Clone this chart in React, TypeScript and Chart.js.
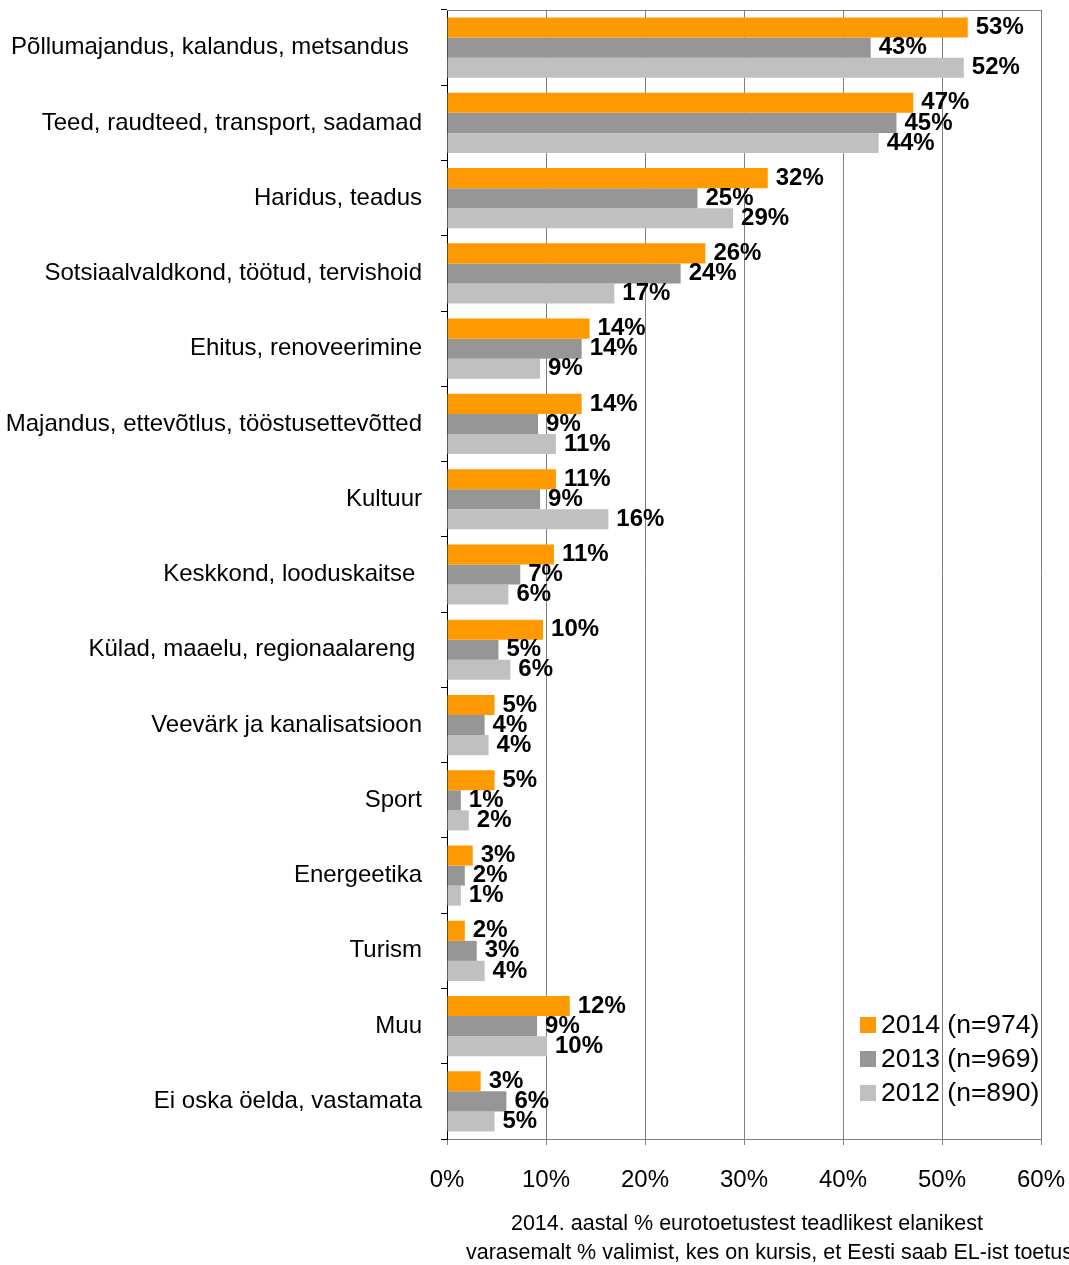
import React, { useEffect, useRef } from "react";
import { Chart, registerables } from "chart.js";

Chart.register(...registerables);

const categories = [
  "Põllumajandus, kalandus, metsandus  ",
  "Teed, raudteed, transport, sadamad",
  "Haridus, teadus",
  "Sotsiaalvaldkond, töötud, tervishoid",
  "Ehitus, renoveerimine",
  "Majandus, ettevõtlus, tööstusettevõtted",
  "Kultuur",
  "Keskkond, looduskaitse ",
  "Külad, maaelu, regionaalareng ",
  "Veevärk ja kanalisatsioon",
  "Sport",
  "Energeetika",
  "Turism",
  "Muu",
  "Ei oska öelda, vastamata",
];

const values2014 = [52.6, 47.1, 32.4, 26.1, 14.4, 13.6, 11.0, 10.8, 9.7, 4.8, 4.8, 2.6, 1.8, 12.4, 3.4];
const values2013 = [42.8, 45.4, 25.3, 23.6, 13.6, 9.2, 9.4, 7.4, 5.2, 3.8, 1.4, 1.8, 3.0, 9.1, 6.0];
const values2012 = [52.2, 43.6, 28.9, 16.9, 9.4, 11.0, 16.3, 6.2, 6.4, 4.2, 2.2, 1.4, 3.8, 10.1, 4.8];

const seriesLabels = ["2014 (n=974)", "2013 (n=969)", "2012 (n=890)"];
const xTicks = [0, 10, 20, 30, 40, 50, 60];
const titleLines = [
  "2014. aastal % eurotoetustest teadlikest elanikest",
  "varasemalt % valimist, kes on kursis, et Eesti saab EL-ist toetust",
];

const FONT = "'Liberation Sans', Arial, sans-serif";

const framePlugin = {
  id: "frame",
  beforeDatasetsDraw(chart: any) {
    const { ctx, chartArea } = chart;
    ctx.save();
    ctx.strokeStyle = "#808080";
    ctx.lineWidth = 1;
    ctx.beginPath();
    ctx.moveTo(chartArea.left, chartArea.top + 0.5);
    ctx.lineTo(chartArea.right, chartArea.top + 0.5);
    ctx.stroke();
    ctx.restore();
  },
};

const labelPlugin = {
  id: "valueLabels",
  afterDatasetsDraw(chart: any) {
    const { ctx } = chart;
    ctx.save();
    ctx.font = `bold 24px ${FONT}`;
    ctx.fillStyle = "#000";
    ctx.textAlign = "left";
    ctx.textBaseline = "middle";
    chart.data.datasets.forEach((ds: any, di: number) => {
      const meta = chart.getDatasetMeta(di);
      meta.data.forEach((el: any, i: number) => {
        const v = ds.data[i];
        ctx.fillText(Math.round(v) + "%", el.x + 8, el.y);
      });
    });
    ctx.restore();
  },
};

const legendPlugin = {
  id: "innerLegend",
  afterDraw(chart: any) {
    const { ctx, chartArea } = chart;
    ctx.save();
    ctx.font = `26.5px ${FONT}`;
    ctx.textBaseline = "middle";
    ctx.textAlign = "left";
    chart.data.datasets.forEach((ds: any, i: number) => {
      const y = chartArea.bottom - 114 + i * 34;
      const x = chartArea.right - 181;
      ctx.fillStyle = ds.backgroundColor;
      ctx.fillRect(x, y - 8, 16, 16);
      ctx.fillStyle = "#000";
      ctx.fillText(ds.label, x + 21, y + 1);
    });
    ctx.restore();
  },
};

const titlePlugin = {
  id: "bottomTitle",
  afterDraw(chart: any) {
    const { ctx, chartArea } = chart;
    ctx.save();
    ctx.font = `21.5px ${FONT}`;
    ctx.fillStyle = "#000";
    ctx.textBaseline = "middle";
    ctx.textAlign = "center";
    ctx.fillText(titleLines[0], (chartArea.left + chartArea.right) / 2 + 3, chartArea.bottom + 85);
    ctx.textAlign = "left";
    ctx.fillText(titleLines[1], chartArea.left + 19, chartArea.bottom + 114);
    ctx.restore();
  },
};

export default function App() {
  const ref = useRef<HTMLCanvasElement | null>(null);

  useEffect(() => {
    if (!ref.current) return;
    const chart = new Chart(ref.current, {
      type: "bar",
      data: {
        labels: categories,
        datasets: [
          { label: seriesLabels[0], data: values2014, backgroundColor: "#FF9900" },
          { label: seriesLabels[1], data: values2013, backgroundColor: "#969696" },
          { label: seriesLabels[2], data: values2012, backgroundColor: "#C0C0C0" },
        ],
      },
      options: {
        indexAxis: "y",
        responsive: false,
        animation: false,
        layout: { padding: { top: 10, right: 28, left: 0, bottom: 0 } },
        datasets: { bar: { categoryPercentage: 0.8, barPercentage: 1.0 } },
        plugins: {
          legend: { display: false },
          tooltip: { enabled: false },
          title: { display: false },
        },
        scales: {
          x: {
            min: 0,
            max: 60,
            afterFit: (s: any) => {
              s.height = 126;
              s.paddingLeft = 0;
              s.paddingRight = 0;
            },
            afterBuildTicks: (s: any) => {
              s.ticks = xTicks.map((v) => ({ value: v }));
            },
            ticks: {
              callback: (v: any) => v + "%",
              color: "#000",
              font: { family: FONT, size: 24 },
              padding: 21,
            },
            grid: { color: "#808080", tickLength: 6, lineWidth: 1 },
            border: { color: "#808080" },
          },
          y: {
            afterFit: (s: any) => {
              s.width = 447;
              s.paddingTop = 0;
              s.paddingBottom = 0;
            },
            ticks: {
              color: "#000",
              font: { family: FONT, size: 24 },
              padding: 19,
            },
            grid: { drawOnChartArea: false, drawTicks: true, tickLength: 6, color: "#000", offset: true },
            border: { color: "#000" },
          },
        },
      },
      plugins: [framePlugin, labelPlugin, legendPlugin, titlePlugin],
    } as any);
    return () => chart.destroy();
  }, []);

  return (
    <div style={{ position: "absolute", left: 0, top: 0, width: 1069, height: 1265, background: "#fff" }}>
      <canvas ref={ref} width={1069} height={1265} />
    </div>
  );
}
